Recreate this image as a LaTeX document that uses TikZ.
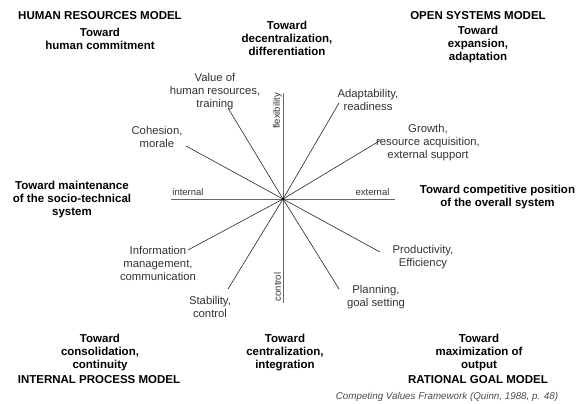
\documentclass[tikz,border=0pt]{standalone}
\usepackage{fontspec}
\setmainfont{Liberation Sans}
\begin{document}
\begin{tikzpicture}[x=1bp,y=-1bp,
  every node/.style={inner sep=0pt,outer sep=0pt,align=center},
  heading/.style={font=\fontsize{11.5bp}{13bp}\selectfont\bfseries,text=black},
  valuelabel/.style={font=\fontsize{11.3bp}{13bp}\selectfont,text=black!80},
  axislabel/.style={font=\fontsize{9.5bp}{11bp}\selectfont,text=black!80},
  caption/.style={font=\fontsize{9.8bp}{11bp}\selectfont\itshape,text=black!70},
  axis/.style={draw=black!60,line width=1bp},
  spoke/.style={draw=black!85,line width=0.6bp}]
\useasboundingbox (0,0) rectangle (584,403);
\fill[white] (0,0) rectangle (584,403);

% corner models and directions
\node[heading] (hrm) at (100,16) {HUMAN RESOURCES MODEL};
\node[heading] (hrmdir) at (100,38.5) {Toward\\human commitment};
\node[heading] (decen) at (287,38) {Toward\\decentralization,\\differentiation};
\node[heading] (osm) at (478,16) {OPEN SYSTEMS MODEL};
\node[heading] (osmdir) at (478,45) {Toward\\expansion,\\adaptation};
\node[heading] (maint) at (72,200) {Toward maintenance\\of the socio-technical\\system};
\node[heading] (compet) at (497.5,197.5) {Toward competitive position\\of the overall system};
\node[heading] (ipmdir) at (100,353) {Toward\\consolidation,\\continuity};
\node[heading] (ipm) at (99,380) {INTERNAL PROCESS MODEL};
\node[heading] (centr) at (285,353) {Toward\\centralization,\\integration};
\node[heading] (rgmdir) at (479,353) {Toward\\maximization of\\output};
\node[heading] (rgm) at (478,380) {RATIONAL GOAL MODEL};
\node[caption] (cap) at (447,397) {Competing Values Framework (Quinn, 1988, p. 48)};

% axes
\coordinate (c) at (283,199);
\coordinate (axl) at (171,199);
\coordinate (axr) at (395,199);
\coordinate (axt) at (283,93);
\coordinate (axb) at (283,303);
\draw[axis] (axl) -- (axr);
\draw[axis] (axt) -- (axb);
\node[axislabel] (intl) at (188,192.5) {internal};
\node[axislabel] (extl) at (372.5,192.5) {external};
\node[axislabel,rotate=90] (flex) at (277.5,111) {flexibility};
\node[axislabel,rotate=90] (ctrl) at (277.5,287) {control};

% value labels
\node[valuelabel] (vhr) at (215,92) {Value of\\human resources,\\training};
\node[valuelabel] (coh) at (157,137) {Cohesion,\\morale};
\node[valuelabel] (ada) at (368,100) {Adaptability,\\readiness};
\node[valuelabel] (gro) at (428,143) {Growth,\\resource acquisition,\\external support};
\node[valuelabel] (inf) at (158,263) {Information\\management,\\communication};
\node[valuelabel] (sta) at (210,306.5) {Stability,\\control};
\node[valuelabel] (pro) at (423,257.5) {Productivity,\\Efficiency};
\node[valuelabel] (pla) at (376,297.5) {Planning,\\goal setting};

% spoke ends
\coordinate (evhr) at (228,108);
\coordinate (ecoh) at (186,146);
\coordinate (eada) at (339,103);
\coordinate (egro) at (381,140);
\coordinate (einf) at (188,250);
\coordinate (esta) at (228,289);
\coordinate (epro) at (380,252);
\coordinate (epla) at (339,289);
\foreach \e in {evhr,ecoh,eada,egro,einf,esta,epro,epla}
  \draw[spoke] (c) -- (\e);
\fill[black] (c) circle (1.3bp);
\end{tikzpicture}
\end{document}
